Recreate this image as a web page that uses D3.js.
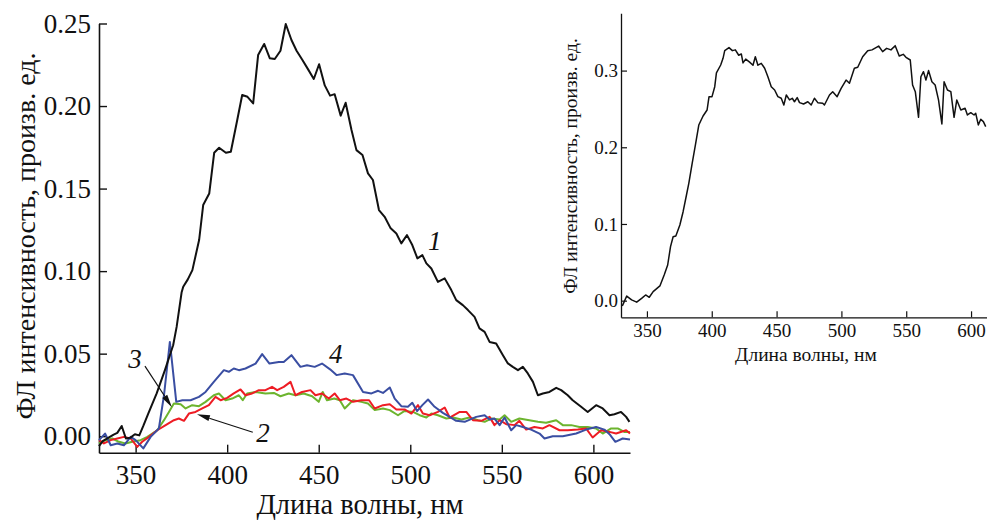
<!DOCTYPE html>
<html><head><meta charset="utf-8">
<script src="https://cdn.jsdelivr.net/npm/d3@7"></script>
<style>
html,body{margin:0;padding:0;background:#fff;}
svg text{font-family:"Liberation Serif","Times New Roman",serif;fill:#111;}
</style></head><body>
<svg id="c" width="987" height="520"></svg>
<script>
// ---------- data (wavelength nm, intensity) ----------
const curve1 = [[330,-0.006],[332,-0.003],[335,-0.001],[338,0.001],[340,0.002],[342.4,0.0062],[344.7,-0.0014],[347,-0.001],[349.6,0.0012],[352,0.0005],[354.2,0.0062],[356.9,0.0137],[361.5,0.0259],[366,0.040],[370.5,0.0551],[372.4,0.0662],[375.1,0.087],[376,0.0905],[378.5,0.095],[381,0.1006],[384.7,0.119],[386.9,0.140],[390.2,0.147],[392.9,0.1717],[395.6,0.1747],[399.3,0.1717],[402,0.1723],[405.5,0.1915],[408.2,0.2067],[411.1,0.2056],[414.2,0.2016],[416.9,0.2309],[420.2,0.2376],[423.3,0.2289],[426,0.2285],[429.1,0.2335],[432,0.2497],[435.1,0.240],[437.9,0.2335],[441.1,0.2279],[444.2,0.2222],[447.3,0.2164],[450.2,0.2253],[453.3,0.2125],[456.2,0.2063],[458.7,0.2072],[462,0.1942],[464.7,0.202],[467.9,0.1855],[470.6,0.1733],[473.9,0.1703],[476.9,0.1592],[479.6,0.1552],[482.9,0.137],[486,0.1329],[489.3,0.1259],[492.4,0.1228],[495.1,0.1168],[498.2,0.1218],[501.1,0.1158],[503.9,0.1077],[506.6,0.1097],[508.8,0.1047],[511.5,0.1016],[515.1,0.0935],[518.8,0.0956],[522.4,0.0885],[525.1,0.0824],[528.7,0.0794],[531.5,0.0764],[535.1,0.0723],[537.8,0.0653],[540.6,0.0632],[543.3,0.0571],[546.9,0.0562],[550.6,0.0491],[553.3,0.0441],[556,0.042],[558.8,0.040],[561.5,0.042],[564.2,0.038],[567,0.0329],[569.7,0.0248],[572.4,0.0259],[576,0.0268],[579.7,0.0293],[582.4,0.0279],[586,0.0248],[588.7,0.0218],[593.3,0.0178],[596.9,0.0147],[601.5,0.0188],[605.1,0.0168],[608.8,0.0127],[611.5,0.0133],[615.1,0.0147],[617.9,0.0117],[619.7,0.0087]];

const curve2 = [[330,-0.0024],[332.7,-0.0044],[336.4,-0.0024],[340,-0.0014],[343.6,-0.0004],[347.3,-0.0014],[350.9,-0.0065],[353.6,-0.0034],[357.3,-0.0004],[361.8,0.0036],[366.4,0.0067],[370.9,0.0097],[373.6,0.0107],[376.4,0.0093],[379.1,0.0137],[382.7,0.0147],[386.4,0.0168],[390,0.0188],[393.6,0.0238],[396.4,0.0218],[400,0.0232],[403.6,0.0259],[407.3,0.0283],[410,0.0248],[413.6,0.0259],[417.3,0.0279],[420.9,0.0279],[424.5,0.0299],[427.3,0.0279],[430.9,0.0299],[434.6,0.0329],[437.3,0.0248],[440.9,0.0268],[445.5,0.0279],[448.2,0.0248],[451.8,0.0259],[455.5,0.0228],[458.7,0.0259],[461.5,0.0218],[465.1,0.0228],[468.7,0.0208],[473.3,0.0218],[477.5,0.0218],[480.6,0.0168],[485.1,0.0188],[488.8,0.0194],[492.4,0.0162],[496.9,0.0162],[500.6,0.0137],[504.2,0.0188],[506.9,0.0137],[510.6,0.0127],[515.1,0.0147],[518.8,0.0174],[521.5,0.0113],[527,0.0147],[530.6,0.0147],[534.2,0.0097],[538.8,0.0093],[543.3,0.0117],[546,0.0067],[548.8,0.0097],[552.4,0.0073],[556.9,0.0067],[559.6,0.0093],[563.3,0.004],[567.8,0.0056],[572.4,0.0047],[576,0.0067],[581.5,0.0036],[586,0.0036],[591.5,0.004],[596,0.0047],[599.6,-0.0008],[604.2,0.0036],[608.8,0.0026],[612.4,0.0016],[617.9,0.0036],[620,0.0016]];

const curve3 = [[330,-0.0044],[333.6,-0.0024],[337.3,-0.0014],[340.9,-0.0034],[344.5,-0.0044],[348.2,-0.0034],[352.7,-0.0024],[356.4,-0.0004],[359.1,0.0016],[361.8,0.0036],[365.5,0.0097],[368.2,0.0147],[370.9,0.0198],[374.6,0.0194],[377.3,0.0168],[380.9,0.0188],[384.6,0.0182],[388.2,0.0208],[392.7,0.0248],[395.5,0.0259],[399.1,0.0218],[402.7,0.0228],[406.4,0.0248],[408.5,0.0218],[410.9,0.0259],[415.5,0.0268],[420.9,0.0259],[425.5,0.0262],[429.1,0.0242],[433.6,0.0259],[437.3,0.0248],[441.8,0.0259],[446.4,0.0242],[450,0.0208],[452.2,0.0268],[454.5,0.0218],[458.5,0.0228],[461.5,0.0218],[464.2,0.0168],[468.7,0.0218],[473.3,0.0208],[476.9,0.0198],[480.6,0.0158],[485.1,0.0168],[488.8,0.0158],[493.3,0.0127],[496.9,0.0153],[501.5,0.0147],[505.1,0.0127],[508.8,0.0113],[511.5,0.0137],[515.1,0.0127],[519.7,0.0107],[523.3,0.0113],[527.9,0.0101],[532.4,0.0113],[537,0.0097],[540.6,0.0087],[544.2,0.0107],[548.8,0.0101],[551.5,0.0127],[555.1,0.0087],[559.6,0.0107],[565,0.0097],[569.7,0.0087],[574.2,0.0081],[579.7,0.0097],[583.3,0.0067],[587.9,0.0067],[592.4,0.0056],[596.9,0.0056],[601.5,0.0047],[605.1,0.0016],[609.7,0.0047],[613.3,0.0047],[616.9,0.0026],[620,0.0026]];

const curve4 = [[330,-0.0024],[333.3,0.0016],[336.4,-0.0055],[340,-0.0044],[343.6,-0.0055],[347.3,-0.0004],[350,-0.0024],[354.2,-0.0074],[358.2,-0.0004],[362.7,0.0047],[365.5,0.0248],[368.7,0.0571],[372.2,0.0208],[375.5,0.0218],[380,0.0218],[384.6,0.0238],[388.2,0.0268],[392.7,0.0329],[398.2,0.040],[400.9,0.039],[403.6,0.041],[406.4,0.040],[410,0.041],[415.5,0.044],[419.1,0.0497],[423.1,0.044],[428.2,0.045],[430.9,0.045],[435.1,0.0491],[440,0.042],[443.6,0.043],[447.8,0.042],[451.8,0.044],[456.2,0.0405],[459.7,0.037],[464.2,0.038],[468.7,0.037],[474.2,0.0268],[478.8,0.0259],[482.4,0.0275],[485.1,0.0262],[488.8,0.0295],[491.5,0.0228],[495.1,0.0182],[498.7,0.0178],[501.1,0.0202],[503.7,0.0152],[506.6,0.0188],[509.7,0.0222],[513.3,0.0178],[517.8,0.0141],[521.5,0.0117],[525.1,0.0093],[529.7,0.0087],[536,0.0117],[540.6,0.0127],[543.3,0.0101],[546,0.0107],[548.8,0.0067],[551.5,0.0113],[555.1,0.0036],[557.9,0.0067],[561.5,0.0056],[566,0.004],[570.6,0.0016],[573.3,-0.0014],[577.8,0.0],[583.3,0.0],[590.6,0.0016],[596,0.004],[601.5,0.0056],[606,0.004],[608.8,0.0012],[612,-0.0034],[616,-0.0014],[620,-0.002]];

const insetCurve = [[331,-0.007],[332.5,-0.0013],[334.4,0.006],[338.2,0.001],[342.1,-0.002],[345.9,0.003],[349,0.0074],[351.8,0.0044],[354.8,0.0117],[360,0.0192],[363.3,0.0335],[366,0.0465],[368.2,0.0704],[370.2,0.0834],[372.3,0.0843],[375.4,0.0987],[377.9,0.116],[380.5,0.1378],[382.3,0.153],[384.9,0.1791],[387.4,0.203],[390,0.229],[393.3,0.2408],[396.4,0.2486],[397.9,0.266],[400.2,0.266],[402.3,0.279],[403.6,0.297],[406.9,0.3073],[408.7,0.316],[410,0.326],[413.3,0.330],[415.9,0.326],[418.2,0.327],[420.8,0.320],[422.8,0.3217],[424.1,0.310],[426.2,0.315],[429.2,0.311],[431.8,0.307],[433.6,0.318],[435.6,0.307],[438.2,0.3095],[440.8,0.303],[443.3,0.292],[445.9,0.279],[448.5,0.2747],[451,0.266],[453.6,0.2639],[455.6,0.2551],[457.5,0.2682],[460,0.2617],[462.1,0.2639],[463.8,0.2594],[465.9,0.2647],[467.7,0.2582],[470.8,0.2564],[474.1,0.2594],[476.7,0.2551],[479.2,0.2639],[481.8,0.2582],[485.6,0.2573],[486.9,0.2551],[490.8,0.2682],[493.3,0.2725],[496.7,0.266],[499.8,0.2769],[503.6,0.2877],[506.2,0.2834],[510,0.303],[512.6,0.3043],[516.4,0.318],[520.3,0.326],[523.6,0.327],[526.7,0.330],[528.7,0.332],[531.8,0.3247],[534.9,0.329],[538.2,0.327],[541.5,0.3325],[544.6,0.319],[547.7,0.3212],[549.8,0.3173],[553.1,0.3138],[554.9,0.2812],[557,0.2725],[559.5,0.2391],[561.3,0.292],[563.3,0.2986],[565.2,0.2877],[567.2,0.300],[569.8,0.2855],[572.3,0.2812],[574.9,0.2617],[577.5,0.2304],[579.2,0.2855],[581.8,0.2747],[584.4,0.2725],[586.9,0.2391],[589,0.2617],[592.1,0.2486],[595.4,0.2508],[597.2,0.2421],[599.8,0.2451],[602.3,0.2421],[603.6,0.2443],[605.6,0.2291],[607.5,0.2365],[609.5,0.2334],[611.3,0.2269]];

const mainXTicks = [350,400,450,500,550,600];
const mainYTicks = [0.00,0.05,0.10,0.15,0.20,0.25];
const insetXTicks = [350,400,450,500,550,600];
const insetYTicks = [0.0,0.1,0.2,0.3];
const xTitle = "Длина волны, нм";
const yTitle = "ФЛ интенсивность, произв. ед.";

// curve number labels (data coordinates)
const curveLabels = [
  {t:"1", x:513.3, y:0.1127},
  {t:"4", x:459.3, y:0.0442},
  {t:"3", x:349.6, y:0.0412},
  {t:"2", x:419.5, y:-0.0036}
];
const arrows = [
  {x1:355.1, y1:0.0424, x2:369.8, y2:0.0176},
  {x1:414.0, y1:0.0024, x2:383.5, y2:0.0133}
];

const svg = d3.select("#c");

// ---------- main chart ----------
const x = d3.scaleLinear().domain([330,620]).range([99,630]);
const y = d3.scaleLinear().domain([-0.01,0.25]).range([452.7,23.5]);

const gx = svg.append("g").attr("transform","translate(0,452.7)")
  .call(d3.axisBottom(x).tickValues(mainXTicks).tickSizeInner(-8).tickSizeOuter(0).tickPadding(12).tickFormat(d3.format("d")));
const gy = svg.append("g").attr("transform","translate(99,0)")
  .call(d3.axisLeft(y).tickValues(mainYTicks).tickSizeInner(-8).tickSizeOuter(0).tickPadding(8).tickFormat(d3.format(".2f")));
[gx,gy].forEach(g=>{
  g.select(".domain").attr("stroke","#111").attr("stroke-width",1.6);
  g.selectAll(".tick line").attr("stroke","#111").attr("stroke-width",1.4);
  g.selectAll(".tick text").attr("font-size",27).attr("fill","#111")
   .attr("font-family","'Liberation Serif',serif");
});

const line = d3.line().x(d=>x(d[0])).y(d=>y(d[1]));
const series = [
  {d:curve3, c:"#6cb42e"},
  {d:curve2, c:"#ee1c24"},
  {d:curve4, c:"#3a4ea2"},
  {d:curve1, c:"#111111"}
];
series.forEach(s=>{
  svg.append("path").datum(s.d).attr("d",line).attr("fill","none")
    .attr("stroke",s.c).attr("stroke-width",2).attr("stroke-linejoin","round");
});

// arrows
arrows.forEach(a=>{
  const X1=x(a.x1),Y1=y(a.y1),X2=x(a.x2),Y2=y(a.y2);
  const ang=Math.atan2(Y2-Y1,X2-X1), L=13, W=3;
  const bx=X2-L*Math.cos(ang), by=Y2-L*Math.sin(ang);
  svg.append("line").attr("x1",X1).attr("y1",Y1).attr("x2",bx).attr("y2",by)
    .attr("stroke","#111").attr("stroke-width",1.2);
  const px=-Math.sin(ang)*W, py=Math.cos(ang)*W;
  svg.append("path").attr("d",`M${X2},${Y2}L${bx+px},${by+py}L${bx-px},${by-py}Z`).attr("fill","#111");
});

curveLabels.forEach(l=>{
  svg.append("text").attr("x",x(l.x)).attr("y",y(l.y)).attr("text-anchor","middle")
    .attr("font-size",27).attr("font-style","italic").text(l.t);
});

svg.append("text").attr("x",360).attr("y",514).attr("text-anchor","middle")
  .attr("font-size",28.5).text(xTitle);
svg.append("text").attr("transform","translate(35,236) rotate(-90)").attr("text-anchor","middle")
  .attr("font-size",28).text(yTitle);

// ---------- inset ----------
const xi = d3.scaleLinear().domain([330,612.3]).range([621,987]);
const yi = d3.scaleLinear().domain([-0.0217,0.3747]).range([317.3,13.3]);

const gxi = svg.append("g").attr("transform","translate(0,317.3)")
  .call(d3.axisBottom(xi).tickValues(insetXTicks).tickSizeInner(-6).tickSizeOuter(0).tickPadding(6).tickFormat(d3.format("d")));
const gyi = svg.append("g").attr("transform","translate(621,0)")
  .call(d3.axisLeft(yi).tickValues(insetYTicks).tickSizeInner(-6).tickSizeOuter(0).tickPadding(3).tickFormat(d3.format(".1f")));
[gxi,gyi].forEach(g=>{
  g.select(".domain").attr("stroke","#111").attr("stroke-width",1.3);
  g.selectAll(".tick line").attr("stroke","#111").attr("stroke-width",1.2);
  g.selectAll(".tick text").attr("font-size",19).attr("fill","#111")
   .attr("font-family","'Liberation Serif',serif");
});
const linei = d3.line().x(d=>xi(d[0])).y(d=>yi(d[1]));
svg.append("path").datum(insetCurve).attr("d",linei).attr("fill","none")
  .attr("stroke","#111").attr("stroke-width",1.5).attr("stroke-linejoin","round");

svg.append("text").attr("x",806).attr("y",361).attr("text-anchor","middle")
  .attr("font-size",19.5).text(xTitle);
svg.append("text").attr("transform","translate(577,166) rotate(-90)").attr("text-anchor","middle")
  .attr("font-size",19.5).text(yTitle);
</script>
</body></html>
